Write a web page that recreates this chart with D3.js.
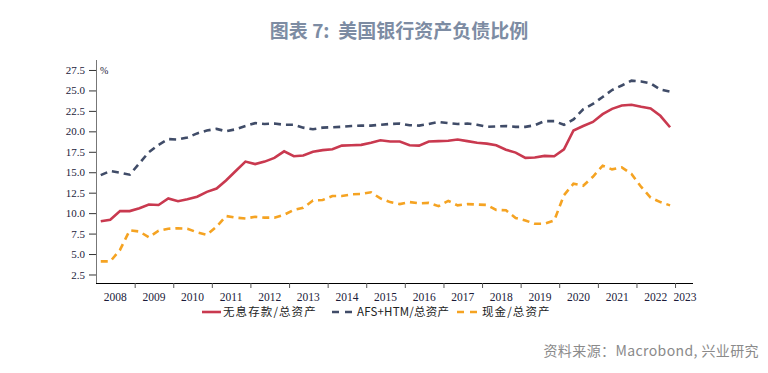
<!DOCTYPE html>
<html>
<head>
<meta charset="utf-8">
<script src="https://cdn.jsdelivr.net/npm/d3@7"></script>
<style>
  body { margin: 0; background: #fff; }
  svg { display: block; }
</style>
</head>
<body>
<div id="chart"></div>
<script>
// quarterly data, 2008Q1 - 2022Q4
var startYear = 2008;
var yearLabels = ["2008", "2009", "2010", "2011", "2012", "2013", "2014", "2015",
	"2016", "2017", "2018", "2019", "2020", "2021", "2022", "2023"];
var yTicks = [2.5, 5.0, 7.5, 10.0, 12.5, 15.0, 17.5, 20.0, 22.5, 25.0, 27.5];
var seriesNames = ["无息存款/总资产", "AFS+HTM/总资产", "现金/总资产"];

var deposits = [9.0, 9.2, 10.25, 10.25, 10.6, 11.05, 11.0, 11.8, 11.45, 11.7,
	12.0, 12.6, 13.0, 14.0, 15.15, 16.3, 16.0, 16.3, 16.75, 17.55,
	16.95, 17.05, 17.5, 17.7, 17.8, 18.25, 18.3, 18.35, 18.6, 18.9,
	18.75, 18.75, 18.3, 18.25, 18.75, 18.8, 18.85, 19.0, 18.8, 18.6,
	18.5, 18.3, 17.75, 17.4, 16.75, 16.8, 17.0, 16.95, 17.8, 20.1,
	20.65, 21.15, 22.1, 22.75, 23.15, 23.25, 23.0, 22.8, 21.9, 20.5];

var afsHtm = [14.65, 15.15, 14.95, 14.7, 16.1, 17.45, 18.35, 19.05, 19.0, 19.25,
	19.75, 20.1, 20.3, 20.0, 20.25, 20.65, 21.0, 20.9, 20.95, 20.8,
	20.8, 20.45, 20.25, 20.45, 20.5, 20.55, 20.65, 20.7, 20.7, 20.8,
	20.9, 20.95, 20.75, 20.7, 20.9, 21.15, 21.0, 20.9, 20.95, 20.8,
	20.55, 20.6, 20.65, 20.55, 20.55, 20.75, 21.25, 21.25, 20.8, 21.45,
	22.7, 23.35, 24.2, 25.05, 25.6, 26.2, 26.1, 25.85, 25.1, 24.85];

var cash = [4.1, 4.1, 5.5, 7.9, 7.75, 7.05, 7.85, 8.1, 8.15, 8.1,
	7.65, 7.35, 8.35, 9.65, 9.45, 9.35, 9.55, 9.45, 9.45, 9.8,
	10.4, 10.65, 11.55, 11.6, 12.1, 12.1, 12.3, 12.35, 12.55, 11.8,
	11.35, 11.1, 11.35, 11.2, 11.25, 10.85, 11.5, 10.95, 11.1, 11.05,
	11.0, 10.4, 10.35, 9.4, 9.1, 8.7, 8.7, 9.1, 12.2, 13.6,
	13.35, 14.45, 15.8, 15.35, 15.6, 14.8, 13.2, 11.9, 11.35, 10.95];

var colors = ["#c9394f", "#404c68", "#f5a322"];

var width = 768, height = 373;
var svg = d3.select("#chart").append("svg")
	.attr("width", width)
	.attr("height", height);

// Title
svg.append("text")
	.attr("x", 399).attr("y", 38)
	.attr("text-anchor", "middle")
	.style("font-family", "'Noto Sans CJK SC', sans-serif")
	.style("font-size", "19px")
	.style("font-weight", "bold")
	.style("fill", "#7d8ca3")
	.text("图表 7:\u00a0\u00a0美国银行资产负债比例");

// quarter dates (mid-quarter)
var dates = deposits.map(function(d, i) {
	return new Date(startYear + Math.floor(i / 4), (i % 4) * 3 + 1, 15);
});

var x = d3.scaleTime()
	.domain([new Date(2008, 0, 1), new Date(2023, 5, 20)])
	.range([96, 693]);
var y = d3.scaleLinear()
	.domain([1.46, 28.72])
	.range([283, 60]);

// Y axis
var yAxis = d3.axisLeft(y).tickValues(yTicks).tickSize(7).tickFormat(d3.format(".1f"));
var gy = svg.append("g")
	.attr("transform", "translate(96,0)")
	.call(yAxis);
gy.select(".domain").attr("stroke", "#777").attr("d", "M0.5," + y.range()[1] + "V" + y.range()[0]);
gy.selectAll(".tick line").attr("stroke", "#333");
gy.selectAll(".tick text")
	.attr("x", -11)
	.style("font-family", "'Liberation Serif', serif")
	.style("font-size", "11px")
	.style("fill", "#1b1b3a");

svg.append("text")
	.attr("x", 100).attr("y", 74)
	.style("font-family", "'Liberation Serif', serif")
	.style("font-size", "10px")
	.style("fill", "#1b1b3a")
	.text("%");

// X axis (ticks at year boundaries, labels centred in year)
var yearStarts = yearLabels.map(function(s) { return new Date(+s, 0, 1); });
var xAxis = d3.axisBottom(x).tickValues(yearStarts.slice(1)).tickSize(5).tickFormat("");
var gx = svg.append("g")
	.attr("transform", "translate(0,283)")
	.call(xAxis);
gx.select(".domain").attr("stroke", "#000").attr("d", "M96,0.5H693");
gx.selectAll(".tick line").attr("stroke", "#555");

svg.append("g").selectAll("text")
	.data(yearLabels)
	.enter().append("text")
	.attr("x", function(s) {
		var a = x(new Date(+s, 0, 1));
		var b = Math.min(x(new Date(+s + 1, 0, 1)), 695);
		return (a + b) / 2;
	})
	.attr("y", 301)
	.attr("text-anchor", "middle")
	.style("font-family", "'Liberation Serif', serif")
	.style("font-size", "11.5px")
	.style("fill", "#1b1b3a")
	.text(function(s) { return s; });

// Lines
var line = d3.line()
	.x(function(d, i) { return x(dates[i]); })
	.y(function(d) { return y(d); });

var allSeries = [deposits, afsHtm, cash];
var dashes = [null, "7,5", "7,5"];
allSeries.forEach(function(s, k) {
	svg.append("path")
		.attr("d", line(s))
		.attr("fill", "none")
		.attr("stroke", colors[k])
		.attr("stroke-width", 2.6)
		.attr("stroke-dasharray", dashes[k]);
});

// Legend
var legendX = [202, 332, 457];
var lg = svg.append("g").selectAll("g")
	.data(seriesNames)
	.enter().append("g")
	.attr("transform", function(d, i) { return "translate(" + legendX[i] + ",316)"; });
lg.append("line")
	.attr("x1", 0).attr("x2", function(d, i) { return i == 0 ? 19 : 23; })
	.attr("y1", -4).attr("y2", -4)
	.attr("stroke", function(d, i) { return colors[i]; })
	.attr("stroke-width", 2.6)
	.attr("stroke-dasharray", function(d, i) { return dashes[i] ? "7,6" : null; });
lg.append("text")
	.attr("x", function(d, i) { return i == 0 ? 21 : 25; })
	.attr("y", 0)
	.style("font-family", "'Noto Sans CJK SC', sans-serif")
	.style("font-size", "11.5px")
	.style("letter-spacing", function(d, i) { return i == 1 ? "0.2px" : "1.1px"; })
	.style("fill", "#222")
	.text(function(d) { return d; });

// Source
svg.append("text")
	.attr("x", 759).attr("y", 356)
	.attr("text-anchor", "end")
	.style("font-family", "'Noto Sans CJK SC', sans-serif")
	.style("font-size", "14px")
	.style("letter-spacing", "0.4px")
	.style("fill", "#8a8a8a")
	.text("资料来源：Macrobond, 兴业研究");
</script>
</body>
</html>
